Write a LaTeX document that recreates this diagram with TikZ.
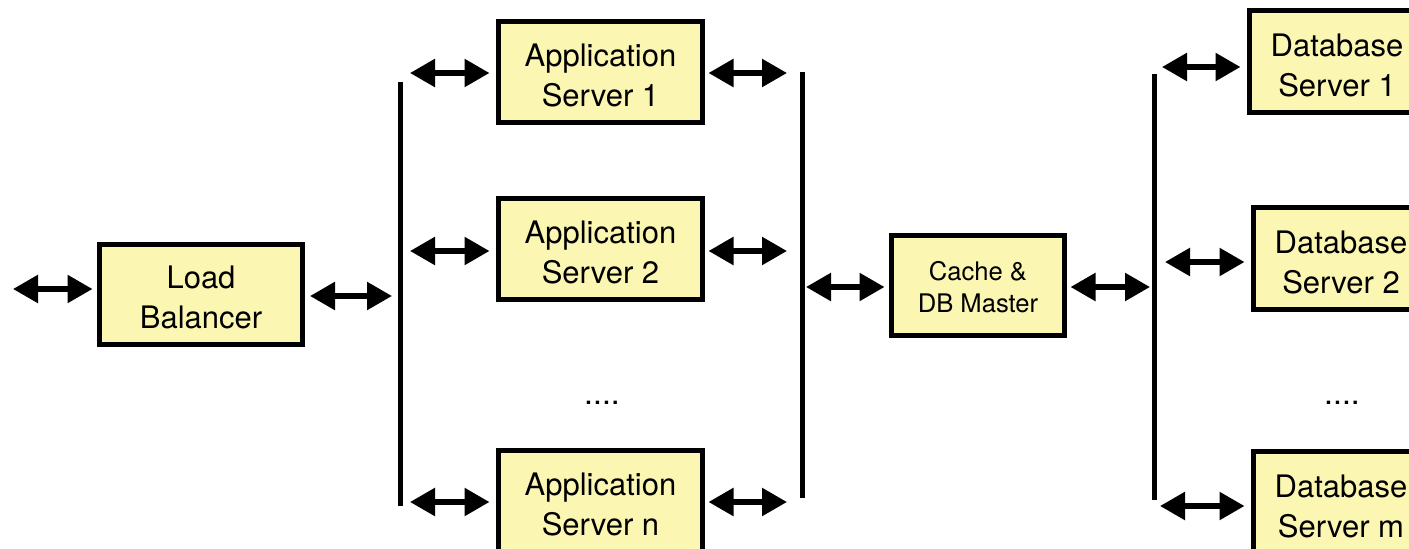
\documentclass[tikz,border=0pt]{standalone}
\usepackage{fontspec}
\setmainfont{TeX Gyre Heros}
\usetikzlibrary{arrows.meta}
\definecolor{boxfill}{RGB}{251,246,178}
\newcommand{\twol}[3][6.5pt]{\raisebox{-#1}[\height][\depth]{\begin{tabular}{@{}c@{}}#2\\#3\end{tabular}}}
\tikzset{
  box/.style={draw=black, line width=5pt, fill=boxfill, inner sep=0pt,
    font=\fontsize{31}{40}\selectfont},
  bigbox/.style={box, minimum width=204pt, minimum height=101pt},
  dbbox/.style={box, minimum width=175pt, minimum height=102pt},
  link/.style={line width=5.5pt, {Triangle[length=25pt,width=27pt]}-{Triangle[length=25pt,width=27pt]}},
  bus/.style={line width=5pt},
  dots/.style={anchor=base, inner sep=0pt, font=\fontsize{32}{38}\selectfont}
}
\begin{document}
\begin{tikzpicture}[x=1pt,y=-1pt]
\useasboundingbox (0,0) rectangle (1409,549);
% boxes
\node[box, minimum width=203pt, minimum height=100pt] (lb) at (201,294.5) {\twol[5.5pt]{Load}{Balancer}};
\node[bigbox] (a1) at (600.5,72) {\twol{Application}{Server 1}};
\node[bigbox] (a2) at (600.5,249) {\twol{Application}{Server 2}};
\node[bigbox] (an) at (600.5,500.5) {\twol{Application}{Server n}};
\node[box, minimum width=173pt, minimum height=100pt, font=\fontsize{25.6}{32}\selectfont] (cm) at (978,285.5) {\twol[4.8pt]{Cache \&}{DB Master}};
\node[dbbox] (d1) at (1337,61.5) {\twol[7pt]{Database}{Server 1}};
\node[dbbox] (d2) at (1341,258.5) {\twol[6.5pt]{Database}{Server 2}};
\node[dbbox] (dm) at (1341,502.5) {\twol[6.5pt]{Database}{Server m}};
\node[dots] (dotsA) at (602,404) {....};
\node[dots] (dotsD) at (1342,404) {....};
% buses
\coordinate (b1t) at (400,82);  \coordinate (b1b) at (400,506);
\coordinate (b2t) at (802,72);  \coordinate (b2b) at (802,498);
\coordinate (b3t) at (1154,74); \coordinate (b3b) at (1154,500);
\draw[bus] (b1t) -- (b1b);
\draw[bus] (b2t) -- (b2b);
\draw[bus] (b3t) -- (b3b);
% free ends
\coordinate (in) at (13,289);
\coordinate (lbo) at (392,296);
\coordinate (a1l) at (410,73);  \coordinate (a1r) at (787,73);
\coordinate (a2l) at (410,251); \coordinate (a2r) at (787,251);
\coordinate (anl) at (410,502); \coordinate (anr) at (787,502);
\coordinate (cml) at (806,287); \coordinate (cmr) at (1150,287);
\coordinate (d1l) at (1162,67);
\coordinate (d2l) at (1165,262);
\coordinate (dml) at (1160,506);
% links
\draw[link, shorten >=4.5pt] (in) -- (in -| lb.west);
\draw[link, shorten <=5pt] (lbo -| lb.east) -- (lbo);
\draw[link, shorten >=6.5pt] (a1l) -- (a1l -| a1.west);
\draw[link, shorten >=6.5pt] (a2l) -- (a2l -| a2.west);
\draw[link, shorten >=6.5pt] (anl) -- (anl -| an.west);
\draw[link, shorten <=3.5pt] (a1r -| a1.east) -- (a1r);
\draw[link, shorten <=3.5pt] (a2r -| a2.east) -- (a2r);
\draw[link, shorten <=3.5pt] (anr -| an.east) -- (anr);
\draw[link, shorten >=4.5pt] (cml) -- (cml -| cm.west);
\draw[link, shorten <=3.5pt] (cmr -| cm.east) -- (cmr);
\draw[link, shorten >=6.5pt] (d1l) -- (d1l -| d1.west);
\draw[link, shorten >=6.5pt] (d2l) -- (d2l -| d2.west);
\draw[link, shorten >=6.5pt] (dml) -- (dml -| dm.west);
\end{tikzpicture}
\end{document}
